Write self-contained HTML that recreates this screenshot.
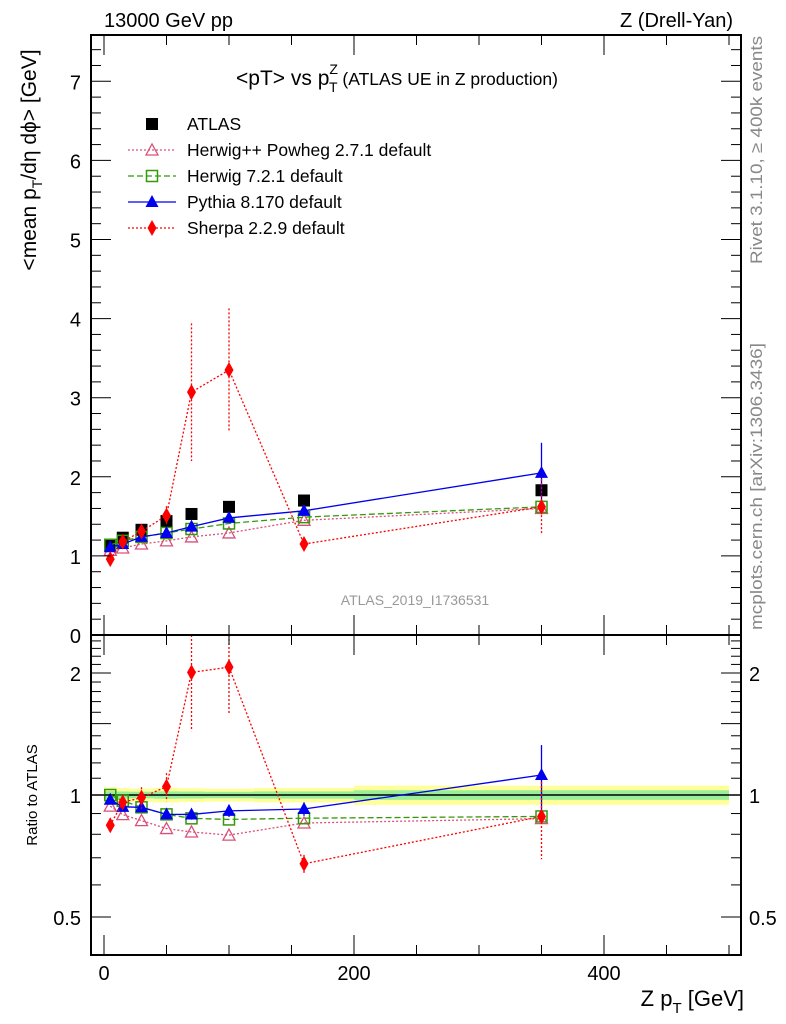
<!DOCTYPE html>
<html><head><meta charset="utf-8"><style>
body{margin:0;background:#fff;}
svg{display:block;font-family:"Liberation Sans",Arial,sans-serif;}
</style></head><body>
<svg id="c" width="786" height="1024" viewBox="0 0 786 1024" xmlns="http://www.w3.org/2000/svg">
<g id="bands"></g>
<g id="marks"></g>
<g id="axes" stroke="#000" fill="none"></g>
<g id="txt">
<text x="104" y="27" font-size="20">13000 GeV pp</text>
<text x="733" y="27" font-size="20" text-anchor="end">Z (Drell-Yan)</text>
<text x="236" y="85" font-size="21">&lt;pT&gt; vs p<tspan font-size="14" dy="-11">Z</tspan><tspan font-size="14" dx="-9" dy="18">T</tspan><tspan font-size="17.5" dy="-7"> (ATLAS UE in Z production)</tspan></text>
<text transform="translate(36,160) rotate(-90)" font-size="21" text-anchor="middle">&lt;mean p<tspan font-size="14" dy="6">T</tspan><tspan dy="-6">/dη dϕ&gt; [GeV]</tspan></text>
<text transform="translate(37,795) rotate(-90)" font-size="15" text-anchor="middle">Ratio to ATLAS</text>
<text x="744" y="1006" font-size="22" text-anchor="end">Z p<tspan font-size="15" dy="7">T</tspan><tspan dy="-7"> [GeV]</tspan></text>
<text transform="translate(762,264) rotate(-90)" font-size="17" fill="#888" textLength="228" lengthAdjust="spacingAndGlyphs">Rivet 3.1.10, ≥ 400k events</text>
<text transform="translate(762,630) rotate(-90)" font-size="17" fill="#888" textLength="287" lengthAdjust="spacingAndGlyphs">mcplots.cern.ch [arXiv:1306.3436]</text>
<text x="415" y="605" font-size="14" fill="#999" text-anchor="middle">ATLAS_2019_I1736531</text>
</g>
<g id="legend"></g>
</svg>
<script>
const xs=[5,15,30,50,70,100,160,350];
const xLo=[0,10,20,40,60,80,120,200];
const xHi=[10,20,40,60,80,120,200,500];
const atlas=[1.14,1.23,1.33,1.44,1.53,1.62,1.70,1.83];
const atlasErr=[0.025,0.025,0.025,0.03,0.03,0.03,0.035,0.05];
const herwigpp=[1.07,1.10,1.15,1.19,1.24,1.29,1.45,1.60];
const herwig7=[1.14,1.19,1.24,1.29,1.34,1.41,1.49,1.62];
const pythia=[1.11,1.15,1.24,1.29,1.37,1.48,1.57,2.05];
const pythiaErr=[0.02,0.02,0.03,0.03,0.04,0.05,0.06,0.38];
const sherpa=[0.96,1.18,1.31,1.51,3.07,3.35,1.15,1.62];
const sherpaErr=[0.04,0.05,0.08,0.12,0.87,0.78,0.06,0.35];
const yTicks=[0,1,2,3,4,5,6,7];
const xTicks=[0,200,400];
const rTicks=[0.5,1,2];

const NS="http://www.w3.org/2000/svg";
const L=91,R=741,T=35,M=635,B=955;
const X=v=>104+v*1.25;
const Y=v=>M-v*79.1;
const RY=v=>795-Math.log2(v)*122;
function mk(p,tag,a){const e=document.createElementNS(NS,tag);for(const k in a)e.setAttribute(k,a[k]);document.getElementById(p).appendChild(e);return e;}

xs.forEach((x,i)=>{
 const r=atlasErr[i]/atlas[i];
 const b1=mk('bands','rect',{x:X(xLo[i]),y:RY(1+2*r),width:X(xHi[i])-X(xLo[i]),height:RY(1-2*r)-RY(1+2*r),fill:'#ffff99'});
 
 
 const b2=mk('bands','rect',{x:X(xLo[i]),y:RY(1+r),width:X(xHi[i])-X(xLo[i]),height:RY(1-r)-RY(1+r),fill:'#99ee99'});
 
 
});
const one=mk('marks','line',{x1:L,x2:R,y1:RY(1),y2:RY(1),stroke:'#000','stroke-width':1.5});



function clipY(y,top,bot){return Math.max(top,Math.min(bot,y));}
function series(name,vals,errs,color,dash,marker,ratio){
 const ys=vals.map((v,i)=>ratio?clipY(RY(v/atlas[i]),M,B):clipY(Y(v),T,M));
 const pl=mk('marks','polyline',{points:xs.map((x,i)=>X(x)+','+ys[i]).join(' '),fill:'none',stroke:color,'stroke-width':1.3,'stroke-dasharray':dash});
 
 
 xs.forEach((x,i)=>{
  const cx=X(x),cy=ys[i];
  if(errs){const e=errs[i];
   const y1=ratio?clipY(RY((vals[i]+e)/atlas[i]),M,B):clipY(Y(vals[i]+e),T,M);
   const y2=ratio?clipY(RY((vals[i]-e)/atlas[i]),M,B):clipY(Y(vals[i]-e),T,M);
   const eb=mk('marks','line',{x1:cx,x2:cx,y1:y1,y2:y2,stroke:color,'stroke-width':1.3,'stroke-dasharray':dash});
   
   }
  const m=drawMarker('marks',marker,cx,cy,color);
  
  
 });
}
function drawMarker(p,t,cx,cy,color){
 if(t==='sq')return mk(p,'rect',{x:cx-6,y:cy-6,width:12,height:12,fill:'#000'});
 if(t==='osq')return mk(p,'rect',{x:cx-5.5,y:cy-5.5,width:11,height:11,fill:'none',stroke:color,'stroke-width':1.5});
 if(t==='otri')return mk(p,'polygon',{points:`${cx},${cy-6} ${cx-6},${cy+5} ${cx+6},${cy+5}`,fill:'none',stroke:color,'stroke-width':1.3});
 if(t==='tri')return mk(p,'polygon',{points:`${cx},${cy-7} ${cx-6.5},${cy+5} ${cx+6.5},${cy+5}`,fill:color});
 return mk(p,'polygon',{points:`${cx},${cy-8} ${cx-4.5},${cy} ${cx},${cy+8} ${cx+4.5},${cy}`,fill:color});
}
xs.forEach((x,i)=>{const m=drawMarker('marks','sq',X(x),Y(atlas[i]),'#000');
 
 });
series('herwigpp',herwigpp,null,'#d9507a','2,2','otri',false);
series('herwig7',herwig7,null,'#33990a','6,3','osq',false);
series('pythia',pythia,pythiaErr,'#0000ee','','tri',false);
series('sherpa',sherpa,sherpaErr,'#ff0000','2,2','dia',false);
series('herwigpp',herwigpp,null,'#d9507a','2,2','otri',true);
series('herwig7',herwig7,null,'#33990a','6,3','osq',true);
series('pythia',pythia,pythiaErr,'#0000ee','','tri',true);
series('sherpa',sherpa,sherpaErr,'#ff0000','2,2','dia',true);

const fr1=mk('axes','rect',{x:L,y:T,width:R-L,height:M-T,'stroke-width':2});


const fr2=mk('axes','rect',{x:L,y:M,width:R-L,height:B-M,'stroke-width':2});


for(let v=0;v<=7.5;v+=0.2){const y=Y(v);const maj=Math.abs(v-Math.round(v))<0.01;const l=maj?20:10;
 mk('axes','line',{x1:L,x2:L+l,y1:y,y2:y});mk('axes','line',{x1:R,x2:R-l,y1:y,y2:y});}
yTicks.forEach(v=>{const t=mk('txt','text',{x:81,y:Y(v)+8,'font-size':20,'text-anchor':'end'});t.textContent=v;
 
 });
for(let v=0;v<=500;v+=50){const x=X(v);const l=v%200===0?20:10;
 [T,M].forEach(y0=>mk('axes','line',{x1:x,x2:x,y1:y0,y2:y0+l}));
 [M,B].forEach(y0=>mk('axes','line',{x1:x,x2:x,y1:y0,y2:y0-l}));}
xTicks.forEach(v=>{const t=mk('txt','text',{x:X(v),y:980,'font-size':20,'text-anchor':'middle'});t.textContent=v;
 
 });
const rmin=[0.5,0.6,0.7,0.8,0.9,1,1.1,1.2,1.3,1.4,1.5,1.6,1.7,1.8,1.9,2,2.1,2.2,2.3,2.4];
rmin.forEach(v=>{const y=RY(v);const maj=[0.5,1,1.5,2].includes(v);const l=maj?20:10;
 mk('axes','line',{x1:L,x2:L+l,y1:y,y2:y});mk('axes','line',{x1:R,x2:R-l,y1:y,y2:y});});
rTicks.forEach(v=>{[[81,'end'],[749,'start']].forEach(([x,a])=>{const t=mk('txt','text',{x:x,y:RY(v)+8,'font-size':20,'text-anchor':a});t.textContent=v;
 
 });});

const leg=[['ATLAS','#000','','sq'],['Herwig++ Powheg 2.7.1 default','#d9507a','2,2','otri'],['Herwig 7.2.1 default','#33990a','6,3','osq'],['Pythia 8.170 default','#0000ee','','tri'],['Sherpa 2.2.9 default','#ff0000','2,2','dia']];
leg.forEach((d,i)=>{const y=124+i*26;
 if(i>0){const ln=mk('legend','line',{x1:128,x2:176,y1:y,y2:y,stroke:d[1],'stroke-width':1.3,'stroke-dasharray':d[2]});
  
  }
 const m=drawMarker('legend',d[3],152,y,d[1]);
 
 
 const t=mk('legend','text',{x:187,y:y+6,'font-size':17.5});t.textContent=d[0];
 
 });
</script>
</body></html>
